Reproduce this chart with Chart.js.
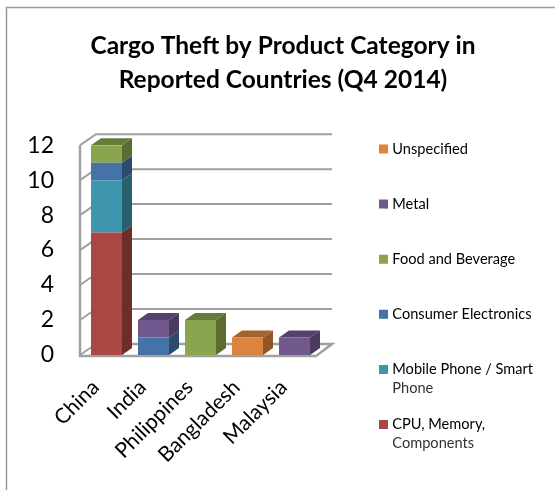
<!DOCTYPE html>
<html><head><meta charset="utf-8">
<style>html,body{margin:0;padding:0;background:#fff}#w{width:555px;height:490px;position:relative}</style>
<script src="https://cdn.jsdelivr.net/npm/chart.js@4"></script>
</head><body><div id="w"><canvas id="c"></canvas></div>
<script>
const categories = ["China","India","Philippines","Bangladesh","Malaysia"];
const cpuMemory = [7,0,0,0,0];
const mobilePhone = [3,0,0,0,0];
const consumerElectronics = [1,1,0,0,0];
const foodBeverage = [1,0,2,0,0];
const metal = [0,1,0,0,1];
const unspecified = [0,0,0,1,0];
const yTicks = [0,2,4,6,8,10,12];
const titleLines = ["Cargo Theft by Product Category in","Reported Countries (Q4 2014)"];
const wrapped = {"Mobile Phone / Smart Phone":["Mobile Phone / Smart","Phone"],"CPU, Memory, Components":["CPU, Memory,","Components"]};
const palette = {cpu:"#AA4643",mobile:"#3D96AE",consumer:"#4572A7",food:"#89A54E",metal:"#71588F",unspec:"#DB843D"};
const sides = {cpu:"#6E2C2B",mobile:"#27616F",consumer:"#2C4A6E",food:"#5A6C32",metal:"#4A3A5E",unspec:"#8F5626"};
const tops = {cpu:"#7A3331",mobile:"#2F7084",consumer:"#34557F",food:"#667A3A",metal:"#54416C",unspec:"#A4632C"};
const FONT="Lato, Carlito, sans-serif";
const DX=10, DY=-7, WX=16, WY=-11;
const gray="#A0A0A0";
const LEGEND_W=237, LEGEND_X=379, LEGEND_Y=149, LEGEND_FONT=14.6, BOX=9, NATIVE_BOX=6;
function ds(label,data,k){return {label,data,backgroundColor:palette[k],sideColor:sides[k],topColor:tops[k],borderWidth:0,barPercentage:0.66,categoryPercentage:1};}
function poly(ctx,pts,fill){ctx.beginPath();pts.forEach((p,i)=>i?ctx.lineTo(p[0],p[1]):ctx.moveTo(p[0],p[1]));ctx.closePath();ctx.fillStyle=fill;ctx.fill();}
const depth={id:'depth',
 beforeDatasetsDraw(chart){
  const {ctx,chartArea:a,scales:{y}}=chart;
  const L=a.left-3,R=a.right-2;
  ctx.save();ctx.strokeStyle=gray;ctx.lineWidth=2;
  yTicks.forEach(v=>{const py=y.getPixelForValue(v);ctx.beginPath();ctx.moveTo(L,py);ctx.lineTo(L+WX,py+WY);if(v>0)ctx.lineTo(R+WX,py+WY);ctx.stroke();});
  const b=y.getPixelForValue(0),t=y.getPixelForValue(12);
  ctx.lineWidth=2.5;ctx.beginPath();ctx.moveTo(L,t);ctx.lineTo(L,b+1);ctx.lineTo(R,b+1);ctx.lineTo(R+WX,b+WY);ctx.lineTo(L+WX,b+WY);ctx.stroke();
  ctx.restore();
  const n=chart.data.labels.length;
  for(let i=0;i<n;i++){
   let last=null;
   chart.data.datasets.forEach((d,di)=>{
    if(!d.data[i])return;
    const el=chart.getDatasetMeta(di).data[i];const r=el.x+el.width/2;
    poly(ctx,[[r,el.base],[r+DX,el.base+DY],[r+DX,el.y+DY],[r,el.y]],d.sideColor);
    last={el,d};
   });
   if(last){const e=last.el,l=e.x-e.width/2,r=e.x+e.width/2;
    poly(ctx,[[l,e.y],[r,e.y],[r+DX,e.y+DY],[l+DX,e.y+DY]],last.d.topColor);}
  }
 },
 afterDraw(chart){
  const {ctx}=chart,leg=chart.legend;
  ctx.save();ctx.strokeStyle="#9A9A9A";ctx.lineWidth=1.5;
  ctx.beginPath();ctx.moveTo(6.5,490);ctx.lineTo(6.5,7.5);ctx.lineTo(555,7.5);ctx.stroke();
  ctx.font=LEGEND_FONT+"px "+FONT;ctx.textBaseline="middle";ctx.textAlign="left";
  const pitch=leg.legendHitBoxes[1].top-leg.legendHitBoxes[0].top;
  leg.legendItems.forEach((it,i)=>{
   const y=LEGEND_Y+i*pitch;
   ctx.fillStyle=it.fillStyle;ctx.fillRect(LEGEND_X+NATIVE_BOX-0.5,y-BOX/2,BOX-NATIVE_BOX+0.5,BOX);
   if(it.rest){ctx.fillStyle="#333";ctx.fillText(it.rest,LEGEND_X+NATIVE_BOX+LEGEND_FONT/2,y+19);}
  });
  ctx.restore();
 }
};
const shiftLegend={id:'shiftLegend',
 beforeLayout(chart){const leg=chart.legend;if(!leg.__w){leg.__w=true;const f=leg.fit;leg.fit=function(){f.call(this);this.width=LEGEND_W;};}},
 afterLayout(chart){const leg=chart.legend,p=leg.options.labels.padding,h0=leg.legendHitBoxes[0];
  leg.left=LEGEND_X-p;leg.top=LEGEND_Y-p-h0.height/2;}};
new Chart(document.getElementById('c'),{type:'bar',
 data:{labels:categories,datasets:[
  ds("CPU, Memory, Components",cpuMemory,'cpu'),
  ds("Mobile Phone / Smart Phone",mobilePhone,'mobile'),
  ds("Consumer Electronics",consumerElectronics,'consumer'),
  ds("Food and Beverage",foodBeverage,'food'),
  ds("Metal",metal,'metal'),
  ds("Unspecified",unspecified,'unspec')]},
 options:{responsive:true,maintainAspectRatio:false,animation:false,
  layout:{padding:{left:11,right:0,top:0,bottom:0}},
  plugins:{
   tooltip:{enabled:false},
   title:{display:true,text:titleLines,color:"#000",font:{family:FONT,size:24.5,weight:'bold',lineHeight:1.35},padding:{top:30,bottom:49}},
   legend:{position:'right',align:'start',labels:{boxWidth:NATIVE_BOX,boxHeight:BOX,padding:40.5,color:"#333",font:{family:FONT,size:LEGEND_FONT},
    generateLabels(chart){
     return chart.data.datasets.map((d,i)=>{const w=wrapped[d.label];
      return {text:w?w[0]:d.label,rest:w?w[1]:null,fillStyle:d.backgroundColor,strokeStyle:d.backgroundColor,lineWidth:0,datasetIndex:i};}).reverse();
    }}}
  },
  scales:{
   x:{stacked:true,grid:{display:false},border:{display:false},
      afterFit(ax){ax.height=135;},
      ticks:{maxRotation:45,minRotation:45,color:"#000",font:{family:FONT,size:21},padding:12,labelOffset:-11}},
   y:{stacked:true,min:0,max:12,grid:{display:false},border:{display:false},
      afterBuildTicks(ax){ax.ticks=yTicks.map(v=>({value:v}));},
      afterFit(ax){ax.width=72;},
      ticks:{color:"#000",font:{family:FONT,size:23},padding:21}}
  }},
 plugins:[depth,shiftLegend]});
</script></body></html>
